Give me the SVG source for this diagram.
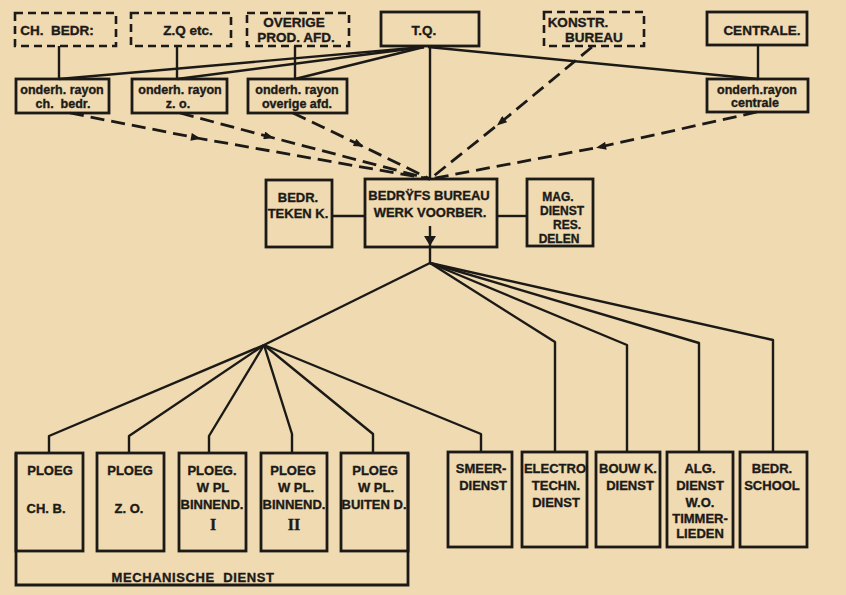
<svg xmlns="http://www.w3.org/2000/svg" width="846" height="595" viewBox="0 0 846 595">
<defs>
<style>
.bg{fill:#efdab2}
.box{fill:none;stroke:#1c1a17;stroke-width:2.8}
.dbox{fill:none;stroke:#1c1a17;stroke-width:2.6;stroke-dasharray:8 5}
.ln{fill:none;stroke:#1c1a17;stroke-width:2.4;stroke-linejoin:round}
.dl{fill:none;stroke:#1c1a17;stroke-width:2.8;stroke-dasharray:14 7}
text{font-family:"Liberation Sans","DejaVu Sans",sans-serif;font-weight:bold;fill:#1c1a17;stroke:#1c1a17;stroke-width:0.35;text-anchor:middle}
.h{font-size:13.5px}
.t{font-size:13px}
.m{font-size:12px}
.s{font-size:12.5px}
.rn{font-family:"Liberation Serif",serif;font-size:16px}
</style>
<marker id="ah" viewBox="0 0 10 8" refX="6" refY="4" markerWidth="11" markerHeight="8" markerUnits="userSpaceOnUse" orient="auto">
<path d="M0,0 L10,4 L0,8 Z" fill="#1c1a17"/>
</marker>
<marker id="ad" viewBox="0 0 10 12" refX="10" refY="6" markerWidth="10" markerHeight="12" markerUnits="userSpaceOnUse" orient="auto">
<path d="M0,0 L10,6 L0,12 Z" fill="#1c1a17"/>
</marker>
</defs>
<rect class="bg" x="0" y="0" width="846" height="595"/>

<g id="connectors">
<path class="ln" d="M59,46 V79"/>
<path class="ln" d="M177,46 V79"/>
<path class="ln" d="M295,46 V79"/>
<path class="ln" d="M758,45 V79"/>
<path class="ln" d="M424,47 L59,79"/>
<path class="ln" d="M424,47 L177,79"/>
<path class="ln" d="M424,47 L295,79"/>
<path class="ln" d="M428,47 L758,79"/>
<path class="ln" d="M430,46 V179"/>
<path class="dl" d="M70,113 L197,138 L430,179" marker-mid="url(#ah)"/>
<path class="dl" d="M180,113 L270,137 L430,179" marker-mid="url(#ah)"/>
<path class="dl" d="M293,113 L360,145 L430,179" marker-mid="url(#ah)"/>
<path class="dl" d="M592,47 L500,123 L430,179" marker-mid="url(#ah)"/>
<path class="dl" d="M757,112 L600,147 L430,179" marker-mid="url(#ah)"/>
<path class="ln" d="M332,216 H365"/>
<path class="ln" d="M497,216 H527"/>
<path class="ln" d="M430,226 V246" marker-end="url(#ad)"/>
<path class="ln" d="M430,247 V263"/>
<path class="ln" d="M430,263 L264,345"/>
<path class="ln" d="M430,263 L555,342 V452"/>
<path class="ln" d="M430,263 L627,345 V452"/>
<path class="ln" d="M430,263 L699,343 V452"/>
<path class="ln" d="M430,263 L773,340 V452"/>
<path class="ln" d="M264,345 L49,436 V453"/>
<path class="ln" d="M264,345 L129,436 V453"/>
<path class="ln" d="M264,345 L209,436 V453"/>
<path class="ln" d="M264,345 L292,434 V453"/>
<path class="ln" d="M264,345 L373,434 V453"/>
<path class="ln" d="M264,345 L481,434 V452"/>
</g>

<g id="n-chbedr">
<rect class="dbox" x="15" y="13" width="101" height="33"/>
<text class="h" x="57" y="35" xml:space="preserve">CH.  BEDR:</text>
</g>
<g id="n-zoetc">
<rect class="dbox" x="131" y="13" width="100" height="33"/>
<text class="h" x="188" y="35">Z.Q etc.</text>
</g>
<g id="n-overige">
<rect class="dbox" x="247" y="13" width="102" height="33"/>
<text class="h" x="294" y="27">OVERIGE</text>
<text class="h" x="296" y="42">PROD. AFD.</text>
</g>
<g id="n-tq">
<rect class="box" x="381" y="12" width="98" height="34"/>
<text class="h" x="424" y="35">T.Q.</text>
</g>
<g id="n-konstr">
<rect class="dbox" x="544" y="12" width="100" height="34"/>
<text class="h" x="578" y="27">KONSTR.</text>
<text class="h" x="594" y="42">BUREAU</text>
</g>
<g id="n-centrale">
<rect class="box" x="707" y="12" width="100" height="33"/>
<text class="h" x="762" y="35">CENTRALE.</text>
</g>

<g id="n-r-chbedr">
<rect class="box" x="16" y="79" width="93" height="34"/>
<text class="s" x="62" y="94">onderh. rayon</text>
<text class="s" x="63" y="108" xml:space="preserve">ch.  bedr.</text>
</g>
<g id="n-r-zo">
<rect class="box" x="132" y="79" width="95" height="34"/>
<text class="s" x="180" y="94">onderh. rayon</text>
<text class="s" x="178" y="108">z. o.</text>
</g>
<g id="n-r-overige">
<rect class="box" x="248" y="79" width="99" height="34"/>
<text class="s" x="297" y="94">onderh. rayon</text>
<text class="s" x="297" y="108">overige afd.</text>
</g>
<g id="n-r-centrale">
<rect class="box" x="707" y="79" width="101" height="33"/>
<text class="s" x="757" y="94">onderh.rayon</text>
<text class="s" x="755" y="107">centrale</text>
</g>

<g id="n-tekenk">
<rect class="box" x="266" y="180" width="66" height="67"/>
<text class="t" x="298" y="202">BEDR.</text>
<text class="t" x="298" y="218">TEKEN K.</text>
</g>
<g id="n-bureau">
<rect class="box" x="365" y="179" width="132" height="68"/>
<text class="t" x="429" y="200">BEDRŸFS BUREAU</text>
<text class="t" x="430" y="217">WERK VOORBER.</text>
</g>
<g id="n-mag">
<rect class="box" x="527" y="179" width="66" height="67"/>
<text class="m" x="558" y="201">MAG.</text>
<text class="m" x="562" y="215">DIENST</text>
<text class="m" x="567" y="229">RES.</text>
<text class="m" x="559" y="243">DELEN</text>
</g>

<g id="n-mech">
<path class="box" d="M16,453 V585 H408 V453"/>
<text class="t" x="193" y="582" style="letter-spacing:0.6px" xml:space="preserve">MECHANISCHE  DIENST</text>
</g>
<g id="n-ploeg-chb">
<rect class="box" x="16" y="453" width="67" height="98"/>
<text class="t" x="50" y="475">PLOEG</text>
<text class="t" x="46" y="513">CH. B.</text>
</g>
<g id="n-ploeg-zo">
<rect class="box" x="97" y="453" width="67" height="98"/>
<text class="t" x="130" y="475">PLOEG</text>
<text class="t" x="129" y="513">Z. O.</text>
</g>
<g id="n-ploeg-b1">
<rect class="box" x="179" y="453" width="67" height="98"/>
<text class="t" x="212" y="475">PLOEG.</text>
<text class="t" x="213" y="492">W PL</text>
<text class="t" x="212" y="509">BINNEND.</text>
<text class="rn" x="213" y="530">I</text>
</g>
<g id="n-ploeg-b2">
<rect class="box" x="261" y="453" width="66" height="98"/>
<text class="t" x="293" y="475">PLOEG</text>
<text class="t" x="296" y="492">W PL.</text>
<text class="t" x="294" y="509">BINNEND.</text>
<text class="rn" x="294" y="530">II</text>
</g>
<g id="n-ploeg-buiten">
<rect class="box" x="341" y="453" width="67" height="98"/>
<text class="t" x="375" y="475">PLOEG</text>
<text class="t" x="376" y="492">W PL.</text>
<text class="t" x="374" y="509">BUITEN D.</text>
</g>

<g id="n-smeer">
<rect class="box" x="448" y="452" width="64" height="95"/>
<text class="t" x="481" y="473">SMEER-</text>
<text class="t" x="483" y="490">DIENST</text>
</g>
<g id="n-electro">
<rect class="box" x="522" y="452" width="65" height="95"/>
<text class="t" x="555" y="473">ELECTRO</text>
<text class="t" x="556" y="490">TECHN.</text>
<text class="t" x="556" y="507">DIENST</text>
</g>
<g id="n-bouwk">
<rect class="box" x="596" y="452" width="64" height="95"/>
<text class="t" x="628" y="473">BOUW K.</text>
<text class="t" x="630" y="490">DIENST</text>
</g>
<g id="n-alg">
<rect class="box" x="667" y="452" width="66" height="95"/>
<text class="t" x="700" y="473">ALG.</text>
<text class="t" x="700" y="490">DIENST</text>
<text class="t" x="700" y="507">W.O.</text>
<text class="t" x="700" y="523">TIMMER-</text>
<text class="t" x="700" y="538">LIEDEN</text>
</g>
<g id="n-school">
<rect class="box" x="740" y="452" width="67" height="95"/>
<text class="t" x="772" y="473">BEDR.</text>
<text class="t" x="772" y="490">SCHOOL</text>
</g>
</svg>
